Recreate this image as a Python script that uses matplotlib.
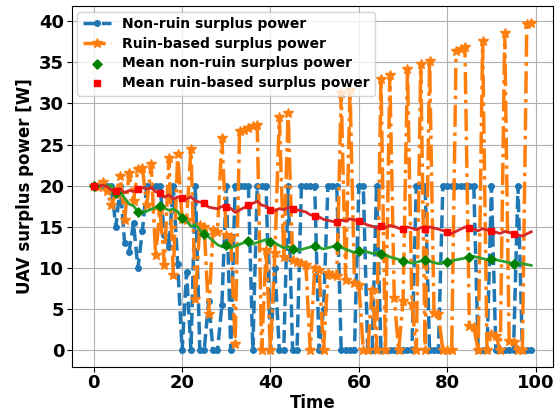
import numpy as np
import matplotlib
matplotlib.use("Agg")
import matplotlib.pyplot as plt

plt.rcParams['font.weight'] = 'bold'
plt.rcParams['axes.labelweight'] = 'bold'

time = np.arange(100)

non_ruin = [20, 20, 20, 20, 20, 15, 20, 13, 12, 15.5,
            10, 14.5, 20, 20, 20, 20, 14, 12.5, 20, 10.5,
            0, 9.5, 0, 20, 0, 0, 6, 0, 0, 5.5,
            20, 0, 20, 20, 20, 20, 0, 20, 20, 20,
            0, 10, 0, 0, 20, 0, 0, 20, 20, 20,
            20, 0, 5, 20, 20, 20, 0, 0, 0, 0,
            20, 20, 0, 0, 20, 0, 0, 0, 0, 0,
            0, 0, 0, 20, 20, 20, 0, 0, 0, 20,
            20, 20, 20, 20, 20, 20, 20, 0, 0, 0,
            20, 0, 0, 0, 0, 0, 20, 0, 0, 0]

ruin_based = [20, 19.8, 20.4, 19.4, 17.6, 19.0, 21.2, 15.8, 21.6, 18.2,
              22.0, 22.2, 17.6, 22.6, 11.6, 17.0, 10.4, 23.4, 9.2, 23.8,
              16.0, 15.8, 24.4, 6.2, 15.2, 15.0, 4.4, 14.6, 14.4, 25.8,
              14.0, 13.8, 0.8, 26.6, 26.8, 27.0, 27.2, 27.4, 0, 12.2,
              0, 11.8, 28.4, 11.4, 28.8, 11.0, 10.8, 10.6, 10.4, 0,
              10.0, 9.8, 0, 9.4, 9.2, 9.0, 31.2, 8.6, 31.6, 8.2,
              8.0, 0, 0, 7.4, 0, 33.0, 0, 33.4, 6.4, 0,
              6.0, 34.2, 5.6, 0, 34.8, 0, 35.2, 4.6, 4.4, 0,
              0, 0, 36.4, 36.6, 36.8, 3.0, 2.8, 0, 37.6, 0,
              2.0, 1.8, 0, 38.6, 1.2, 1.0, 0, 0, 39.6, 39.8]

# running mean over time
mean_non_ruin = np.cumsum(non_ruin) / np.arange(1, 101)
mean_ruin = np.cumsum(ruin_based) / np.arange(1, 101)

fig = plt.figure(figsize=(5.57, 4.15), dpi=100)
ax = fig.add_subplot(111)
fig.subplots_adjust(left=0.129, right=0.993, bottom=0.116, top=0.985)

ax.plot(time, non_ruin, '--', marker='o', markersize=4, lw=2.5,
        color='tab:blue', label='Non-ruin surplus power')
ax.plot(time, ruin_based, '-.', marker='*', markersize=7, lw=2.5,
        color='tab:orange', label='Ruin-based surplus power')

ax.plot(time, mean_non_ruin, '-', lw=2, color='tab:green')
ax.scatter(time[::5], mean_non_ruin[::5], marker='D', s=22, color='green',
           label='Mean non-ruin surplus power', zorder=3)
ax.plot(time, mean_ruin, '-', lw=2, color='tab:red')
ax.scatter(time[::5], mean_ruin[::5], marker='s', s=22, color='red',
           label='Mean ruin-based surplus power', zorder=3)

ax.set_xlabel('Time', fontsize=12, labelpad=1)
ax.set_ylabel('UAV surplus power [W]', fontsize=12)
ax.tick_params(labelsize=13, pad=2)
ax.grid(True)
ax.legend(loc='upper left', prop={'weight': 'bold', 'size': 10},
          borderaxespad=0.4, labelspacing=0.4)

plt.savefig('out.png')
